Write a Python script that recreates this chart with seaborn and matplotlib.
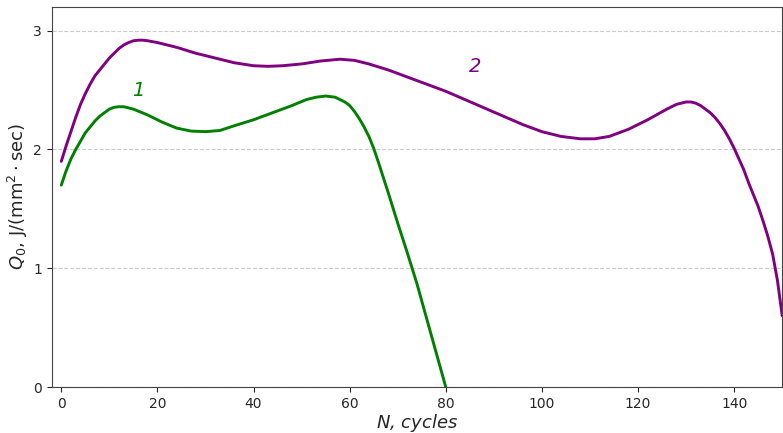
import matplotlib
matplotlib.use('Agg')
import matplotlib.pyplot as plt
import pandas as pd
import seaborn as sns

# curve 1 (green)
n1 = [0, 1, 2, 3, 4, 5, 6, 7, 8, 9, 10, 11, 12, 13, 15, 18, 21, 24, 27, 30,
      33, 36, 40, 44, 48, 51, 53, 55, 57, 58, 59, 60, 61, 62, 63, 64, 65, 66,
      68, 70, 72, 74, 76, 78, 80]
q1 = [1.70, 1.82, 1.92, 2.00, 2.07, 2.14, 2.19, 2.24, 2.28, 2.31, 2.34, 2.355,
      2.36, 2.36, 2.34, 2.29, 2.23, 2.18, 2.155, 2.15, 2.16, 2.20, 2.25, 2.31,
      2.37, 2.42, 2.44, 2.45, 2.44, 2.42, 2.40, 2.37, 2.32, 2.26, 2.19, 2.11,
      2.01, 1.89, 1.64, 1.38, 1.13, 0.87, 0.58, 0.29, 0.0]

# curve 2 (purple)
n2 = [0, 1, 2, 3, 4, 5, 6, 7, 8, 9, 10, 11, 12, 13, 14, 15, 16, 17, 18, 20,
      22, 24, 28, 32, 36, 40, 43, 46, 50, 54, 58, 61, 64, 68, 72, 76, 80, 84,
      88, 92, 96, 100, 104, 108, 111, 114, 118, 122, 126, 128, 130, 131, 132,
      133, 134, 135, 136, 137, 138, 139, 140, 141, 142, 143, 144, 145, 146,
      147, 148, 149, 150]
q2 = [1.90, 2.03, 2.15, 2.27, 2.38, 2.47, 2.55, 2.62, 2.67, 2.72, 2.77, 2.81,
      2.85, 2.88, 2.90, 2.915, 2.92, 2.92, 2.915, 2.90, 2.88, 2.86, 2.81, 2.77,
      2.73, 2.705, 2.70, 2.705, 2.72, 2.745, 2.76, 2.75, 2.72, 2.67, 2.61,
      2.55, 2.49, 2.42, 2.35, 2.28, 2.21, 2.15, 2.11, 2.09, 2.09, 2.11, 2.17,
      2.25, 2.34, 2.38, 2.40, 2.40, 2.39, 2.37, 2.34, 2.31, 2.27, 2.22, 2.16,
      2.09, 2.01, 1.92, 1.83, 1.72, 1.62, 1.52, 1.40, 1.27, 1.12, 0.90, 0.60]

df = pd.concat([
    pd.DataFrame({'N': n1, 'Q': q1, 'curve': '1'}),
    pd.DataFrame({'N': n2, 'Q': q2, 'curve': '2'}),
])

sns.set_style('ticks')
plt.rcParams['font.family'] = ['DejaVu Sans']

fig = plt.figure(figsize=(7.83, 4.33), dpi=100)
ax = fig.add_axes([0.066, 0.106, 0.933, 0.878])

sns.lineplot(data=df, x='N', y='Q', hue='curve', palette={'1': 'green', '2': 'purple'},
             linewidth=2.1, legend=False, ax=ax, sort=False)

ax.text(16, 2.5, '1', color='green', fontsize=14, style='italic', ha='center', va='center')
ax.text(86, 2.7, '2', color='purple', fontsize=14, style='italic', ha='center', va='center')

ax.set_xlim(-2, 150)
ax.set_ylim(0, 3.2)
ax.set_xticks([0, 20, 40, 60, 80, 100, 120, 140])
ax.set_yticks([0, 1, 2, 3])
ax.tick_params(labelsize=10)
ax.yaxis.grid(True, linestyle='--', color='#cccccc', linewidth=0.8)
ax.set_xlabel('$N$, cycles', fontsize=13, style='italic', labelpad=1)
ax.set_ylabel(r'$Q_0$, J/(mm$^2\cdot$sec)', fontsize=13, labelpad=2)
for s in ax.spines.values():
    s.set_color('#444444')

fig.savefig('out.png', dpi=100)
